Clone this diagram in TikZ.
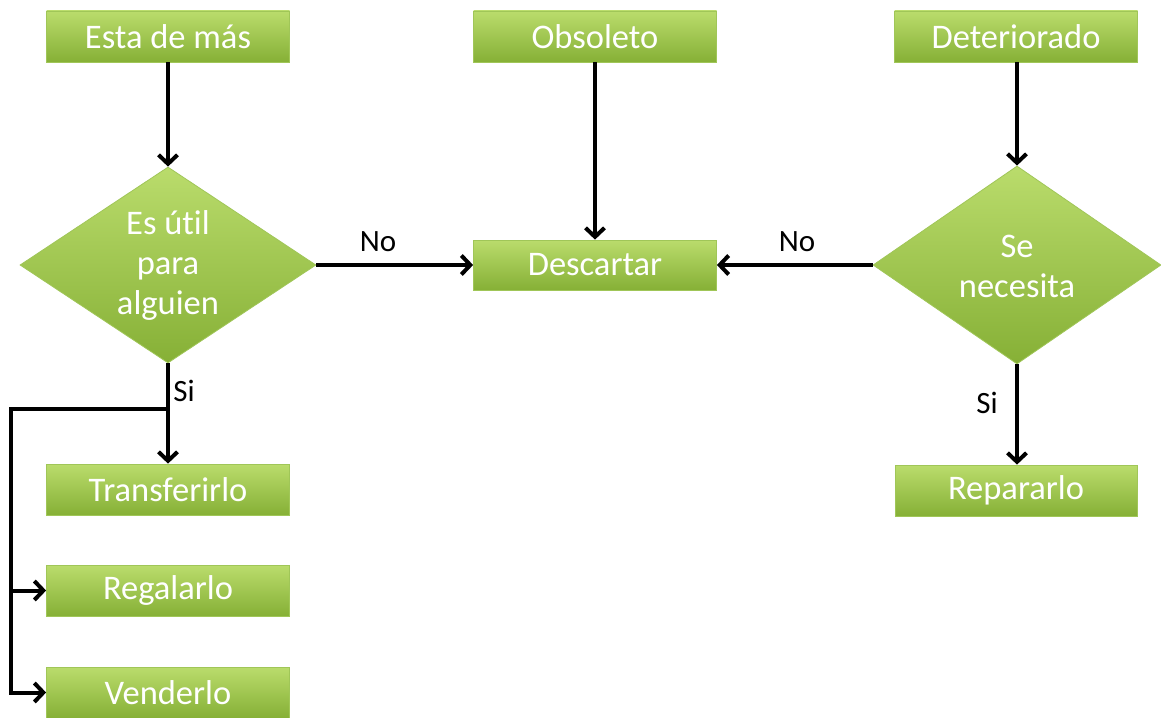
\documentclass[tikz,border=0pt]{standalone}
\usepackage{fontspec}
\setmainfont[Ligatures=NoCommon,Contextuals=NoAlternate]{Carlito}
\usetikzlibrary{shapes.geometric,arrows.meta}
\definecolor{gtop}{RGB}{186,220,108}
\definecolor{gbot}{RGB}{134,176,54}
\definecolor{gline}{RGB}{160,198,88}
\tikzset{
  box/.style={rectangle, minimum width=243pt, minimum height=51pt, inner sep=0pt,
    top color=gtop, bottom color=gbot, draw=gline, line width=0.8pt,
    text=white, font=\fontsize{34.5}{40}\selectfont},
  decision/.style={diamond, minimum width=296pt, minimum height=196pt, inner sep=0pt,
    top color=gtop, bottom color=gbot, draw=gline, line width=0.8pt},
  dtext/.style={text=white, align=center, font=\fontsize{34.5}{40}\selectfont},
  lbl/.style={text=black, font=\fontsize{31}{34}\selectfont, inner sep=0pt},
  wire/.style={line width=4pt, line join=miter},
  conn/.style={wire, -{Straight Barb[length=9pt,width=19pt]}}
}
\begin{document}
\begin{tikzpicture}[x=1pt,y=-1pt]
\useasboundingbox (0,0) rectangle (1161,717);
\fill[white] (0,0) rectangle (1161,717);
% top row
\node[box] (esta) at (168,36.5) {Esta de más};
\node[box] (obs) at (595,36.5) {Obsoleto};
\node[box] (det) at (1016,36.5) {Deteriorado};
% middle
\node[decision] (d1) at (168,265) {};
\node[dtext] (d1t) at (168,265) {Es út\kern0pt il\\para\\alguien};
\node[box, minimum height=50pt] (desc) at (595,265) {Descartar};
\node[decision, minimum width=288pt, minimum height=198pt] (d2) at (1017,265) {};
\node[dtext] (d2t) at (1017,266) {Se\\necesita};
% bottom left
\node[box] (tr) at (168,489.5) {Transferirlo};
\node[box] (reg) at (168,590.5) {Regalarlo};
\node[box] (ven) at (168,692.5) {Venderlo};
% bottom right
\node[box, minimum width=242pt] (rep) at (1016,490.5) {Repararlo};
% connectors
\draw[conn] (esta.south) -- (d1.north);
\draw[conn] (obs.south) -- (desc.north);
\draw[conn] (det.south -| d2.north) -- (d2.north);
\draw[conn] (d1.east) -- (desc.west);
\draw[conn] (d2.west) -- (desc.east);
\draw[conn] (d1.south) -- (tr.north);
\draw[conn] (d2.south) -- (d2.south |- rep.north);
\coordinate (br) at (168,409);
\coordinate (k) at (11,409);
\draw[wire] (br) -- (k) -- (k |- ven.west);
\draw[conn] (k |- reg.west) -- (reg.west);
\draw[conn] ([xshift=-2pt]k |- ven.west) -- (ven.west);
% labels
\node[lbl] (no1) at (378,242) {No};
\node[lbl] (no2) at (797,242) {No};
\node[lbl] (si1) at (184,391) {Si};
\node[lbl] (si2) at (987,403) {Si};
\end{tikzpicture}
\end{document}
